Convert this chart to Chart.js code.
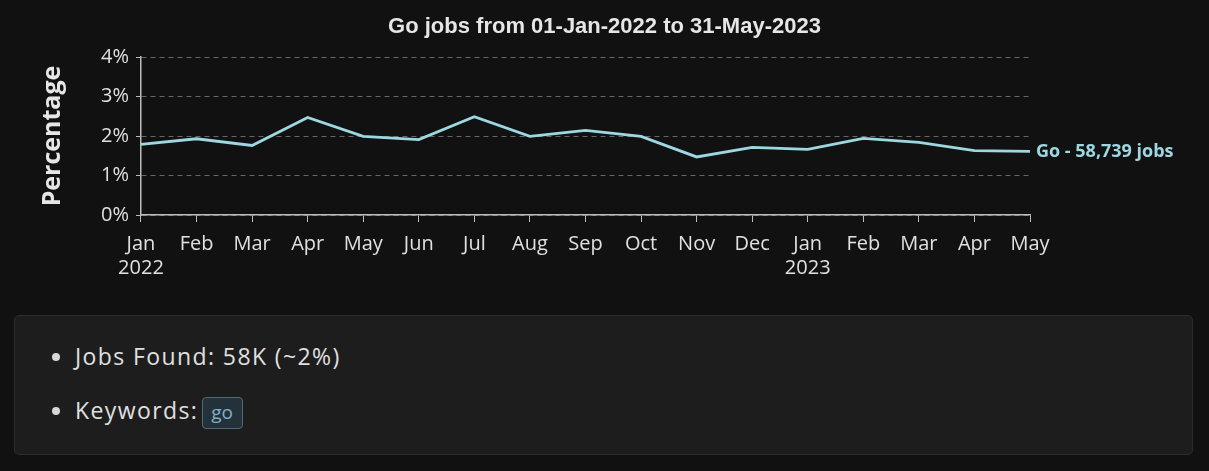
<!DOCTYPE html>
<html>
<head>
<meta charset="utf-8">
<script src="https://cdn.jsdelivr.net/npm/chart.js@4"></script>
<style>
  html, body { margin: 0; padding: 0; background: #111111; width: 1209px; height: 471px; overflow: hidden; }
  #wrap { position: absolute; left: 0; top: 0; width: 1209px; height: 296px; }
  .card { position: absolute; left: 14px; top: 315px; width: 1179px; height: 140px; background: #1d1d1d; border: 1px solid #2c2c2c; border-radius: 5px; box-sizing: border-box; }
  .card ul { margin: 0; padding: 0; list-style: disc; color: #e0e0e0; font-family: "Open Sans", sans-serif; font-size: 23px; letter-spacing: 1.4px; }
  .card li { position: absolute; left: 60px; }
  .card li::marker { color: #d6d6d6; }
  .badge { display: inline-block; margin-left: -4px; width: 41px; height: 32px; box-sizing: border-box; text-align: center; background: #23323a; border: 1px solid #526874; border-radius: 4px; color: #86afc4; font-size: 19px; line-height: 28px; vertical-align: middle; letter-spacing: 0; }
</style>
</head>
<body>
<div id="wrap"><canvas id="chart"></canvas></div>
<div class="card">
  <ul>
    <li style="top: 24px;">Jobs Found: 58K (~2%)</li>
    <li style="top: 78px;">Keywords: <span class="badge">go</span></li>
  </ul>
</div>
<script>
const MONTHS = ["Jan","Feb","Mar","Apr","May","Jun","Jul","Aug","Sep","Oct","Nov","Dec","Jan","Feb","Mar","Apr","May"];
const YEAR_LABELS = { 0: "2022", 12: "2023" };
const GO_PERCENT = [1.79, 1.93, 1.76, 2.47, 1.99, 1.91, 2.49, 1.99, 2.14, 1.99, 1.47, 1.71, 1.66, 1.94, 1.84, 1.63, 1.61];
const Y_TICKS = [0, 1, 2, 3, 4];
const SERIES_LABEL = "Go - 58,739 jobs";
const TITLE = "Go jobs from 01-Jan-2022 to 31-May-2023";

const LINE_COLOR = "#9dd8e2";
const TICK_FONT = { family: "'Open Sans', sans-serif", size: 20 };

// series name at the end of the line, title centred on the whole canvas
const labels = {
  id: "labels",
  afterDatasetsDraw(chart) {
    const meta = chart.getDatasetMeta(0);
    const last = meta.data[meta.data.length - 1];
    const ctx = chart.ctx;
    ctx.save();
    ctx.font = "bold 18px 'Open Sans', sans-serif";
    ctx.fillStyle = LINE_COLOR;
    ctx.textBaseline = "middle";
    ctx.fillText(SERIES_LABEL, last.x + 6, last.y);
    ctx.font = "bold 22px 'Liberation Sans', Arial, sans-serif";
    ctx.fillStyle = "#e6e6e6";
    ctx.textAlign = "center";
    ctx.fillText(TITLE, chart.width / 2, 27);
    ctx.restore();
  }
};

new Chart(document.getElementById("chart").getContext("2d"), {
  type: "line",
  data: {
    labels: MONTHS.map((m, i) => YEAR_LABELS[i] ? [m, YEAR_LABELS[i]] : m),
    datasets: [{ label: "Go", data: GO_PERCENT, borderColor: LINE_COLOR, borderWidth: 2.8, pointRadius: 0, tension: 0, fill: false }]
  },
  options: {
    responsive: true, maintainAspectRatio: false, animation: false,
    layout: { padding: { left: 34, right: 179, top: 57, bottom: 6 } },
    plugins: { legend: { display: false }, tooltip: { enabled: false }, title: { display: false } },
    scales: {
      x: {
        grid: { display: true, drawOnChartArea: false, drawTicks: true, tickLength: 7, tickColor: "#bdbdbd" },
        border: { color: "#bdbdbd", width: 1.5 },
        ticks: { color: "#e0e0e0", font: TICK_FONT, maxRotation: 0, autoSkip: false, padding: 10 }
      },
      y: {
        min: 0, max: 4,
        afterBuildTicks: (axis) => { axis.ticks = Y_TICKS.map(v => ({ value: v })); },
        grid: { color: "#666", lineWidth: 1, drawTicks: true, tickLength: 5, tickColor: "#bdbdbd" },
        border: { color: "#bdbdbd", width: 1.5, dash: [5, 4] },
        ticks: { color: "#e0e0e0", font: TICK_FONT, padding: 7, callback: v => v + "%" },
        title: { display: true, text: "Percentage", color: "#e6e6e6", font: { family: "'Open Sans', sans-serif", size: 25, weight: "bold" }, padding: { bottom: 26 } }
      }
    }
  },
  plugins: [labels]
});
</script>
</body>
</html>
